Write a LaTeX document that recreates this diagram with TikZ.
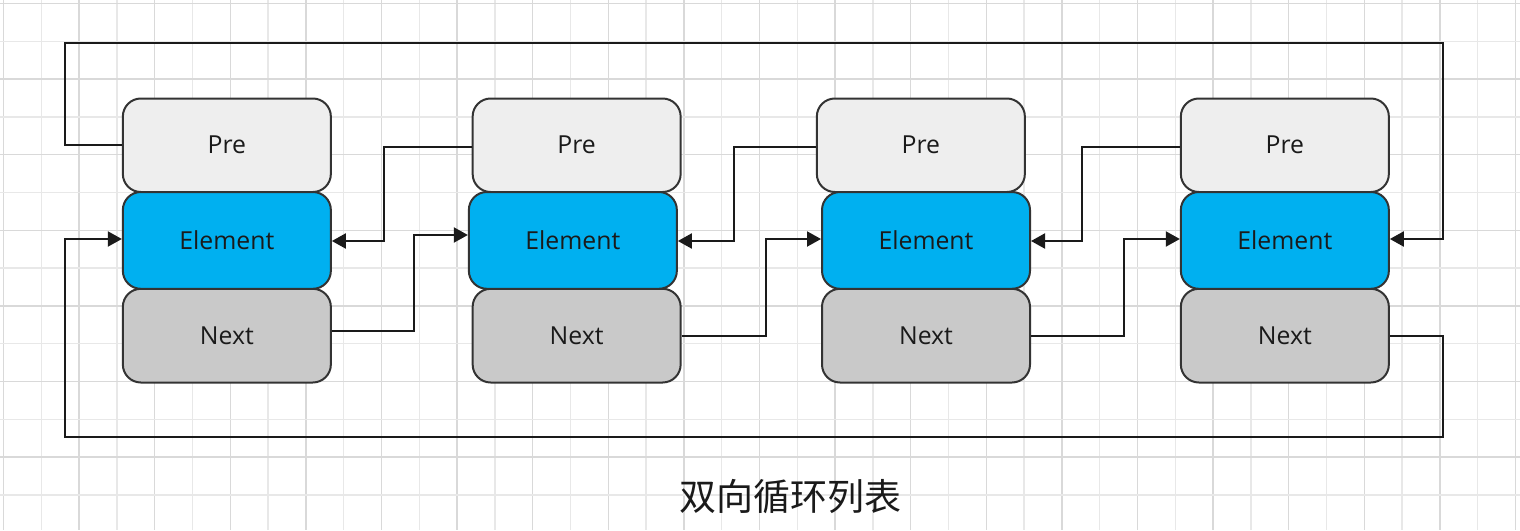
\documentclass[tikz,border=0pt]{standalone}
\usepackage{fontspec}
\setmainfont{Open Sans}
\newfontfamily\cjk{Noto Sans CJK SC}
\usetikzlibrary{arrows.meta}
\definecolor{preC}{HTML}{EEEEEE}
\definecolor{elC}{HTML}{00B0F0}
\definecolor{nextC}{HTML}{C9C9C9}
\definecolor{edgeC}{HTML}{333333}
\definecolor{lineC}{HTML}{1A1A1A}
\definecolor{gridA}{HTML}{D9D9D9}
\definecolor{gridB}{HTML}{E8E8E8}
\tikzset{
 cell/.style={draw=edgeC, line width=1pt, rounded corners=9pt, minimum width=104pt, inner sep=0pt, text=lineC, font=\fontsize{12.4}{14}\selectfont},
 precell/.style={cell, fill=preC, minimum height=46.75pt},
 elcell/.style={cell, fill=elC, minimum height=48.4pt},
 nextcell/.style={cell, fill=nextC, minimum height=46.85pt},
 link/.style={draw=lineC, line width=1pt, -{Triangle[length=7pt,width=7.5pt]}},
 gmajor/.style={draw=gridA, line width=0.7pt},
 gminor/.style={draw=gridB, line width=0.7pt},
 titletext/.style={font=\cjk\fontsize{18.5}{22}\selectfont, text=lineC}
}
\begin{document}
\begin{tikzpicture}[x=0.5pt, y=-0.5pt]
\fill[white] (0,0) rectangle (1520,530);
\useasboundingbox (0,0) rectangle (1520,530);
% grid
\foreach \k in {0,2,...,40} \draw[gmajor] ({3.5+37.8*\k},0) -- ({3.5+37.8*\k},530);
\foreach \k in {1,3,...,39} \draw[gminor] ({3.5+37.8*\k},0) -- ({3.5+37.8*\k},530);
\foreach \k in {0,2,...,12} \draw[gmajor] (0,{3.5+37.8*\k}) -- (1520,{3.5+37.8*\k});
\foreach \k in {1,3,...,13} \draw[gminor] (0,{3.5+37.8*\k}) -- (1520,{3.5+37.8*\k});

% boxes
\node[precell]  (p1) at (226.85,145.25) {Pre};
\node[nextcell] (n1) at (226.85,335.65) {Next};
\node[elcell]   (e1) at (226.85,240.4) {Element};

\node[precell]  (p2) at (576.65,145.25) {Pre};
\node[nextcell] (n2) at (576.65,335.65) {Next};
\node[elcell]   (e2) at (572.85,240.4) {Element};

\node[precell]  (p3) at (920.85,145.25) {Pre};
\node[nextcell] (n3) at (926,335.65) {Next};
\node[elcell]   (e3) at (926,240.4) {Element};

\node[precell]  (p4) at (1284.85,145.25) {Pre};
\node[nextcell] (n4) at (1284.85,335.65) {Next};
\node[elcell]   (e4) at (1284.85,240.4) {Element};

% loop corners
\coordinate (tl) at (65,42.7);
\coordinate (tr) at (1442.7,42.7);
\coordinate (bl) at (65,436.7);
\coordinate (br) at (1442.7,436.7);

% outer loops
\draw[link] (p1.west) -| (tl) -- (tr) |- ([yshift=0.7pt]e4.east);
\draw[link] (n4.east) -| (br) -- (bl) |- ([yshift=0.7pt]e1.west);

% pre links
\draw[link] ([yshift=-0.875pt]p2.west) -- ++(-87.3,0) |- ([yshift=-0.3pt]e1.east);
\draw[link] ([yshift=-0.875pt]p3.west) -- ++(-81.7,0) |- ([yshift=-0.3pt]e2.east);
\draw[link] ([yshift=-0.875pt]p4.west) -- ++(-97.4,0) |- ([yshift=-0.3pt]e3.east);

% next links
\draw[link] ([yshift=2.5pt]n1.east) -- ++(82.3,0) |- ([yshift=2.7pt]e2.west);
\draw[link] (n2.east) -- ++(84,0) |- ([yshift=0.7pt]e3.west);
\draw[link] (n3.east) -- ++(93.4,0) |- ([yshift=0.7pt]e4.west);

% title
\node[titletext] (title) at (790,497) {双向循环列表};
\end{tikzpicture}
\end{document}
